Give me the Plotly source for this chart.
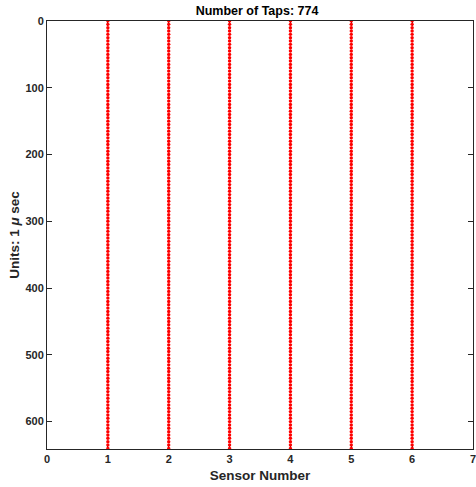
import plotly.graph_objects as go

# Sensor channels and the tap delays (microseconds) on each channel
sensors = [1, 2, 3, 4, 5, 6]
tap_step_us = 5
tap_max_us = 640
tap_delays = list(range(0, tap_max_us + 1, tap_step_us))

n_taps = len(sensors) * len(tap_delays)

xs, ys = [], []
for s in sensors:
    xs.extend([s] * len(tap_delays))
    ys.extend(tap_delays)

fig = go.Figure(
    go.Scatter(
        x=xs, y=ys, mode="markers",
        marker=dict(color="#ff0000", size=3.4, line=dict(width=0)),
        showlegend=False,
    )
)

font_family = "Liberation Sans, Arial, sans-serif"
axis_common = dict(
    showgrid=False, zeroline=False, showline=True, linecolor="#262626",
    linewidth=1, mirror="ticks", ticks="inside", ticklen=5, tickcolor="#262626",
    tickfont=dict(family=font_family, size=11, color="#262626", weight="bold"),
    ticklabeloverflow="allow", layer="below traces", automargin=False,
)

fig.update_layout(
    width=476, height=487,
    margin=dict(l=47, r=3, t=21, b=38),
    paper_bgcolor="white", plot_bgcolor="white",
    title=dict(
        text=f"<b>Number of Taps: {n_taps}</b>",
        x=0.54, xanchor="center", y=0.978, yanchor="middle",
        font=dict(family=font_family, size=12.5, color="black"),
    ),
    xaxis=dict(
        range=[0, 7], tickmode="array", tickvals=list(range(0, 8)),
        title=dict(text="<b>Sensor Number</b>", standoff=6,
                   font=dict(family=font_family, size=13.5, color="#262626")),
        **axis_common,
    ),
    yaxis=dict(
        range=[641, 0], tickmode="array", tickvals=list(range(0, 700, 100)),
        title=dict(text="<b>Units: 1 <i>μ</i> sec</b>", standoff=2,
                   font=dict(family=font_family, size=13.5, color="#262626")),
        **axis_common,
    ),
)

fig.write_html("out.html")
